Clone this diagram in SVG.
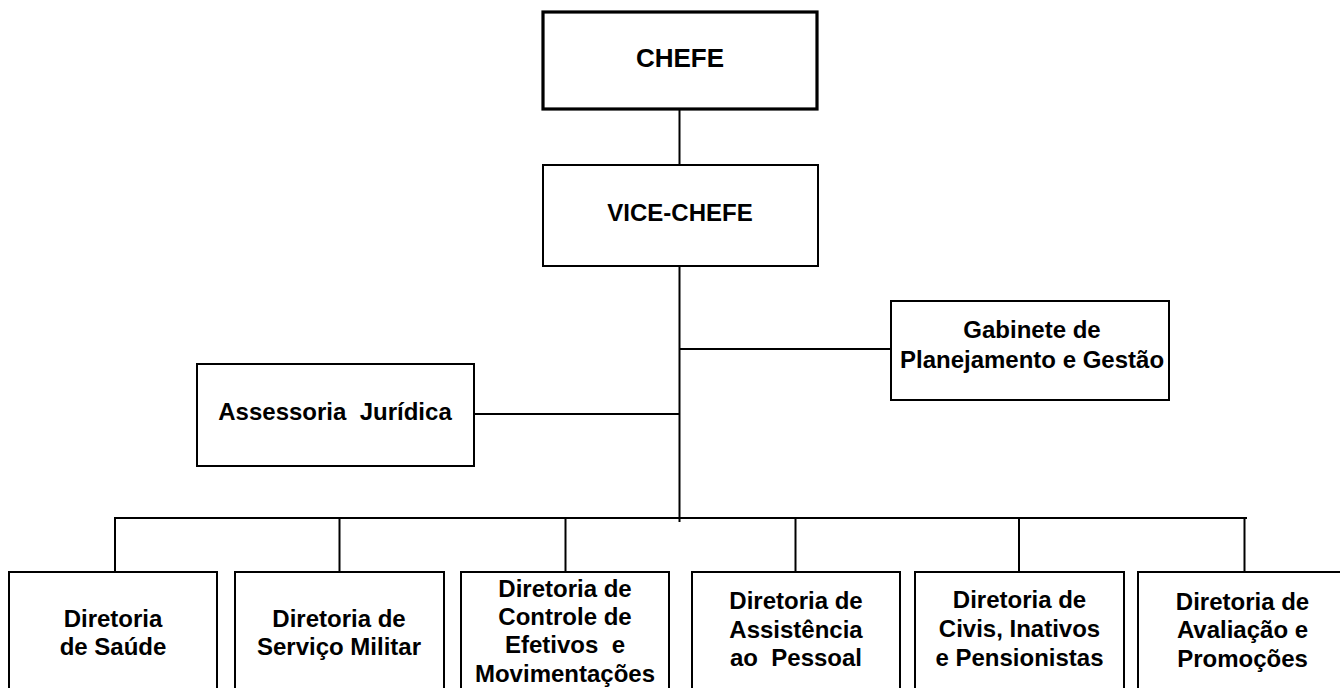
<svg xmlns="http://www.w3.org/2000/svg" width="1340" height="688" viewBox="0 0 1340 688">
<style>
.box{fill:#fff;stroke:#000;stroke-width:2}
.thick{stroke-width:3.2}
.t{font-family:"Liberation Sans",Arial,sans-serif;font-weight:bold;font-size:24px;fill:#000;text-anchor:middle;white-space:pre}
.big{font-size:26px}
.ln{stroke:#000;stroke-width:2;fill:none}
</style>
<rect width="1340" height="688" fill="#fff"/>
<g id="connectors">
<line class="ln" x1="679.5" y1="109" x2="679.5" y2="165"/>
<line class="ln" x1="679.5" y1="266" x2="679.5" y2="522"/>
<line class="ln" x1="680" y1="349" x2="891" y2="349"/>
<line class="ln" x1="474" y1="414" x2="680" y2="414"/>
<line class="ln" x1="114" y1="518" x2="1247" y2="518"/>
<line class="ln" x1="115" y1="517" x2="115" y2="571"/>
<line class="ln" x1="339.5" y1="517" x2="339.5" y2="571"/>
<line class="ln" x1="565.5" y1="517" x2="565.5" y2="571"/>
<line class="ln" x1="795.5" y1="517" x2="795.5" y2="571"/>
<line class="ln" x1="1019" y1="517" x2="1019" y2="571"/>
<line class="ln" x1="1244.5" y1="517" x2="1244.5" y2="571"/>
</g>
<g id="chefe">
<rect class="box thick" x="543" y="12" width="274" height="97"/>
<text class="t big" x="680" y="67">CHEFE</text>
</g>
<g id="vice-chefe">
<rect class="box" x="543" y="165" width="275" height="101"/>
<text class="t" x="680" y="221">VICE-CHEFE</text>
</g>
<g id="gabinete">
<rect class="box" x="891" y="301" width="278" height="99"/>
<text class="t" x="1032" y="338">Gabinete de</text>
<text class="t" x="1032" y="368">Planejamento e Gestão</text>
</g>
<g id="assessoria">
<rect class="box" x="197" y="364" width="277" height="102"/>
<text class="t" x="335" y="420">Assessoria  Jurídica</text>
</g>
<g id="saude">
<rect class="box" x="9" y="572" width="208" height="130"/>
<text class="t" x="113" y="627">Diretoria</text>
<text class="t" x="113" y="655">de Saúde</text>
</g>
<g id="servico-militar">
<rect class="box" x="235" y="572" width="209" height="130"/>
<text class="t" x="339" y="627">Diretoria de</text>
<text class="t" x="339" y="655">Serviço Militar</text>
</g>
<g id="controle-efetivos">
<rect class="box" x="461" y="572" width="208" height="130"/>
<text class="t" x="565" y="597">Diretoria de</text>
<text class="t" x="565" y="625">Controle de</text>
<text class="t" x="565" y="653">Efetivos  e</text>
<text class="t" x="565" y="682">Movimentações</text>
</g>
<g id="assistencia">
<rect class="box" x="692" y="572" width="208" height="130"/>
<text class="t" x="796" y="609">Diretoria de</text>
<text class="t" x="796" y="638">Assistência</text>
<text class="t" x="796" y="666">ao  Pessoal</text>
</g>
<g id="civis">
<rect class="box" x="915" y="572" width="209" height="130"/>
<text class="t" x="1019.5" y="608">Diretoria de</text>
<text class="t" x="1019.5" y="637">Civis, Inativos</text>
<text class="t" x="1019.5" y="666">e Pensionistas</text>
</g>
<g id="avaliacao">
<rect class="box" x="1138" y="572" width="209" height="130"/>
<text class="t" x="1242.5" y="610">Diretoria de</text>
<text class="t" x="1242.5" y="638">Avaliação e</text>
<text class="t" x="1242.5" y="667">Promoções</text>
</g>
</svg>
